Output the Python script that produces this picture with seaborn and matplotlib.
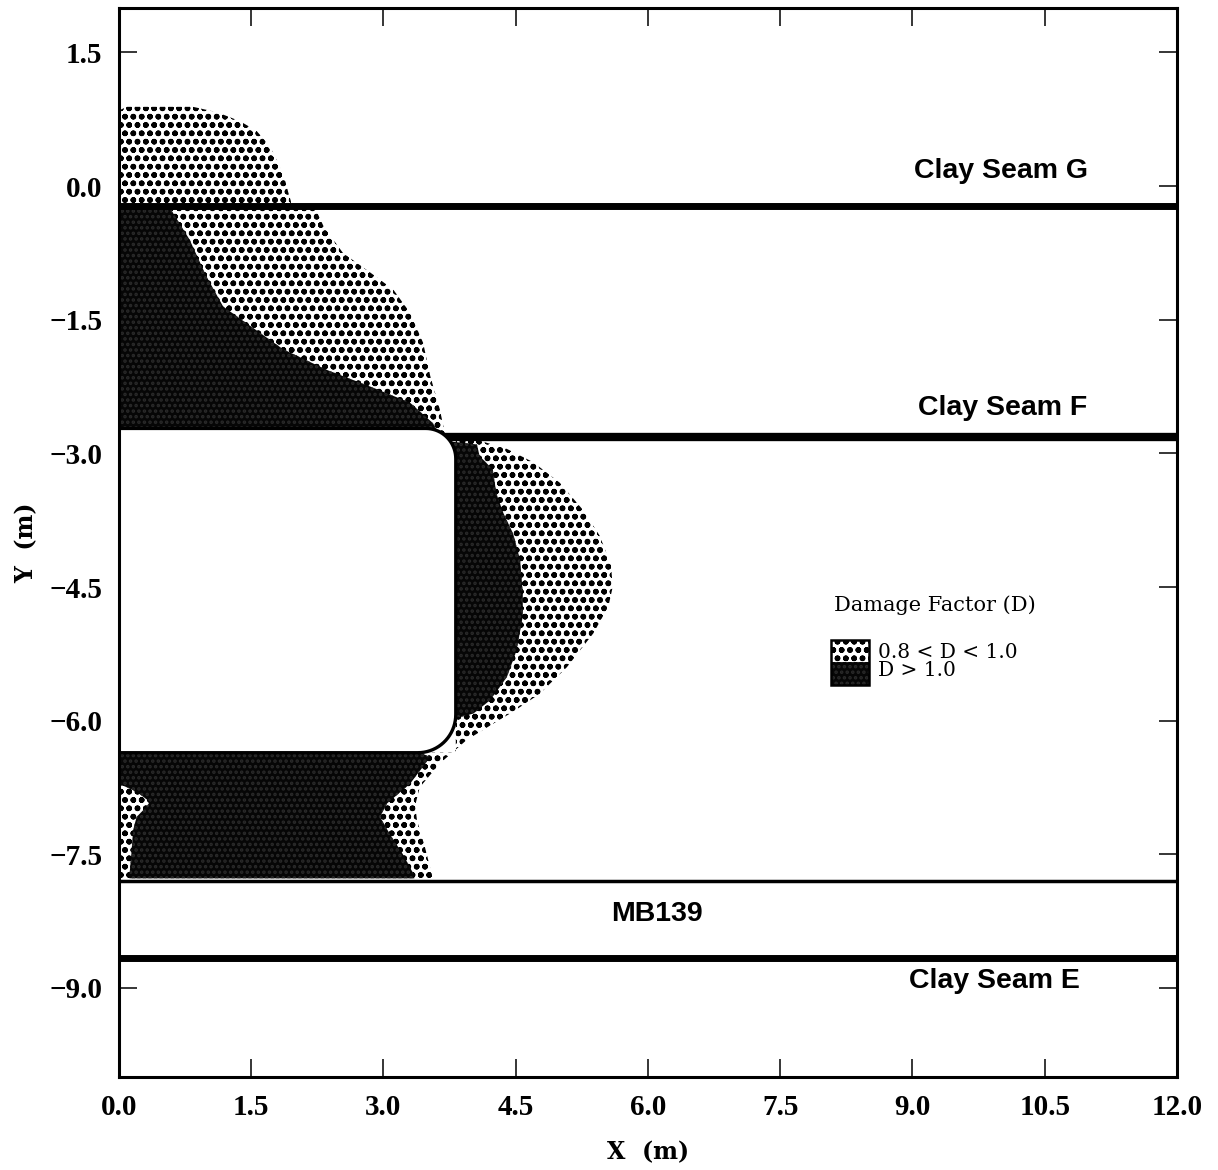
import numpy as np
import matplotlib
matplotlib.use("Agg")
import matplotlib.pyplot as plt
from matplotlib.patches import Rectangle
import seaborn as sns

# ---- datos (m) ----
# zona 0.8 < D < 1.0 sobre la capa G
g_stip_x = [0.0, 0.0, 0.09, 0.84, 1.11, 1.37, 1.56, 1.71, 1.80, 1.88, 1.92, 1.95, 1.95]
g_stip_y = [-0.22, 0.85, 0.89, 0.89, 0.83, 0.73, 0.62, 0.45, 0.27, 0.08, -0.07, -0.17, -0.22]

# zona entre capas G y F
gf_stip_x = [0.0, 2.27, 2.24, 2.32, 2.54, 2.85, 3.11, 3.30, 3.45, 3.53, 3.64, 3.68, 3.72, 0.0]
gf_stip_y = [-0.22, -0.22, -0.28, -0.45, -0.75, -0.97, -1.16, -1.42, -1.76, -2.13, -2.51, -2.70, -2.80, -2.80]
gf_dark_x = [0.0, 0.60, 0.60, 0.80, 0.99, 1.18, 1.49, 1.86, 2.35, 2.85, 3.30, 3.56, 3.62, 0.0]
gf_dark_y = [-0.22, -0.22, -0.28, -0.60, -1.01, -1.35, -1.57, -1.83, -2.06, -2.25, -2.43, -2.66, -2.76, -2.76]

# lobulo a la derecha de la excavacion y banda inferior
lobe_stip_x = [4.10, 4.40, 4.70, 5.00, 5.25, 5.45, 5.58, 5.60, 5.55, 5.38, 5.08, 4.77, 4.47,
               4.25, 3.94, 3.64, 3.41, 3.36, 3.38, 3.47, 3.56, 0.0, 0.0, 3.82, 3.82]
lobe_stip_y = [-2.86, -2.95, -3.10, -3.33, -3.62, -3.92, -4.25, -4.50, -4.72, -5.02, -5.40, -5.70, -5.90,
               -6.03, -6.22, -6.48, -6.75, -6.95, -7.12, -7.42, -7.77, -7.77, -6.36, -6.36, -2.86]
lobe_dark_x = [3.70, 4.06, 4.09, 4.24, 4.28, 4.36, 4.47, 4.55, 4.58, 4.58, 4.51, 4.40, 4.21,
               4.02, 3.87, 3.70]
lobe_dark_y = [-2.86, -2.90, -3.03, -3.18, -3.45, -3.67, -3.90, -4.20, -4.57, -4.83, -5.21, -5.51, -5.77,
               -5.92, -5.96, -5.96]
floor_dark_x = [0.0, 3.42, 3.53, 3.30, 3.04, 2.96, 3.07, 3.22, 3.34, 3.35, 0.12, 0.12, 0.14, 0.16,
                0.20, 0.31, 0.35, 0.20, 0.05, 0.0]
floor_dark_y = [-6.36, -6.36, -6.41, -6.71, -6.93, -7.08, -7.27, -7.50, -7.72, -7.77, -7.77, -7.72,
                -7.50, -7.23, -7.08, -6.97, -6.91, -6.80, -6.73, -6.73]

# excavacion (borde derecho, techo, piso, radios de esquina)
room_right, room_top, room_bottom = 3.82, -2.72, -6.36
r_top, r_bot = 0.34, 0.43

# capas de arcilla y MB139
seam_names = ["Clay Seam G", "Clay Seam F", "MB139", "Clay Seam E"]
seam_y = [-0.225, -2.82, -7.795, -8.66]
seam_lw = [5, 6, 2.5, 5]
label_x = [10.0, 10.02, 6.1, 9.93]
label_y = [0.17, -2.49, -8.17, -8.92]

ticks = np.arange(-9.0, 13.0, 1.5)

sns.set_theme(style="ticks")
plt.rcParams.update({
    "hatch.linewidth": 1.7,
    "text.color": "black",
    "axes.labelcolor": "black",
    "xtick.color": "black",
    "ytick.color": "black",
})
plt.rcParams["font.family"] = ["Liberation Serif", "DejaVu Serif"]

fig = plt.figure(figsize=(12.18, 11.7), dpi=100)
ax = fig.add_axes([0.0977, 0.0795, 0.8686, 0.9137])

stip = dict(facecolor="white", edgecolor="black", hatch="oo", linewidth=0, zorder=1)
dark = dict(facecolor="#060606", edgecolor="#2a2a2a", hatch="...", linewidth=0, zorder=2)

ax.fill(g_stip_x, g_stip_y, **stip)
ax.fill(gf_stip_x, gf_stip_y, **stip)
ax.fill(lobe_stip_x, lobe_stip_y, **stip)
ax.fill(gf_dark_x, gf_dark_y, **dark)
ax.fill(lobe_dark_x, lobe_dark_y, **dark)
ax.fill(floor_dark_x, floor_dark_y, **dark)

# contorno de la excavacion con esquinas redondeadas
a1 = np.linspace(np.pi / 2, 0, 20)
a2 = np.linspace(0, -np.pi / 2, 20)
vx = np.concatenate([[0.0], room_right - r_top + r_top * np.cos(a1),
                     room_right - r_bot + r_bot * np.cos(a2), [0.0]])
vy = np.concatenate([[room_top], room_top - r_top + r_top * np.sin(a1),
                     room_bottom + r_bot + r_bot * np.sin(a2), [room_bottom]])
ax.fill(vx, vy, facecolor="white", edgecolor="none", zorder=3.5)
ax.plot(vx, vy, color="black", lw=2.4, zorder=4, solid_capstyle="butt")

for name, y, lw, tx, ty in zip(seam_names, seam_y, seam_lw, label_x, label_y):
    sns.lineplot(x=[0, 12], y=[y, y], color="black", lw=lw, ax=ax, zorder=3)
    ax.text(tx, ty, name, ha="center", va="center", fontsize=20.5, fontweight="bold",
            family="Liberation Sans", zorder=6)

# leyenda
ax.text(9.25, -4.70, "Damage Factor (D)", ha="center", va="center", fontsize=15,
        family="DejaVu Serif", zorder=6)
ax.add_patch(Rectangle((8.08, -5.34), 0.43, 0.24, **{**stip, "zorder": 6}))
ax.add_patch(Rectangle((8.08, -5.60), 0.43, 0.26, **{**dark, "zorder": 6}))
ax.add_patch(Rectangle((8.08, -5.60), 0.43, 0.50, fill=False, edgecolor="black", lw=1.8, zorder=7))
ax.text(8.61, -5.23, "0.8 < D < 1.0", ha="left", va="center", fontsize=14.5,
        family="DejaVu Serif", zorder=6)
ax.text(8.61, -5.44, "D > 1.0", ha="left", va="center", fontsize=14.5,
        family="DejaVu Serif", zorder=6)

ax.set_xlim(0, 12)
ax.set_ylim(-10.0, 2.0)
ax.set_xticks(ticks[ticks >= 0])
ax.set_yticks(ticks[ticks <= 1.5])
ax.set_xticklabels([f"{t:.1f}" for t in ticks[ticks >= 0]])
ax.set_yticklabels([f"{t:.1f}".replace("-", "\u2212") for t in ticks[ticks <= 1.5]])
ax.tick_params(direction="in", length=13, width=1.1, top=True, right=True, pad=12,
               labelsize=21, color="black", labelcolor="black")
for lab in ax.get_xticklabels() + ax.get_yticklabels():
    lab.set_fontweight("bold")
for sp in ax.spines.values():
    sp.set_linewidth(2.2)
    sp.set_color("black")
    sp.set_zorder(8)

ax.set_xlabel("X  (m)", fontsize=17, fontweight="bold", family="DejaVu Serif", labelpad=14)
ax.set_ylabel("Y  (m)", fontsize=17, fontweight="bold", family="DejaVu Serif", labelpad=8)
ax.grid(False)

fig.savefig("out.png", dpi=100)
